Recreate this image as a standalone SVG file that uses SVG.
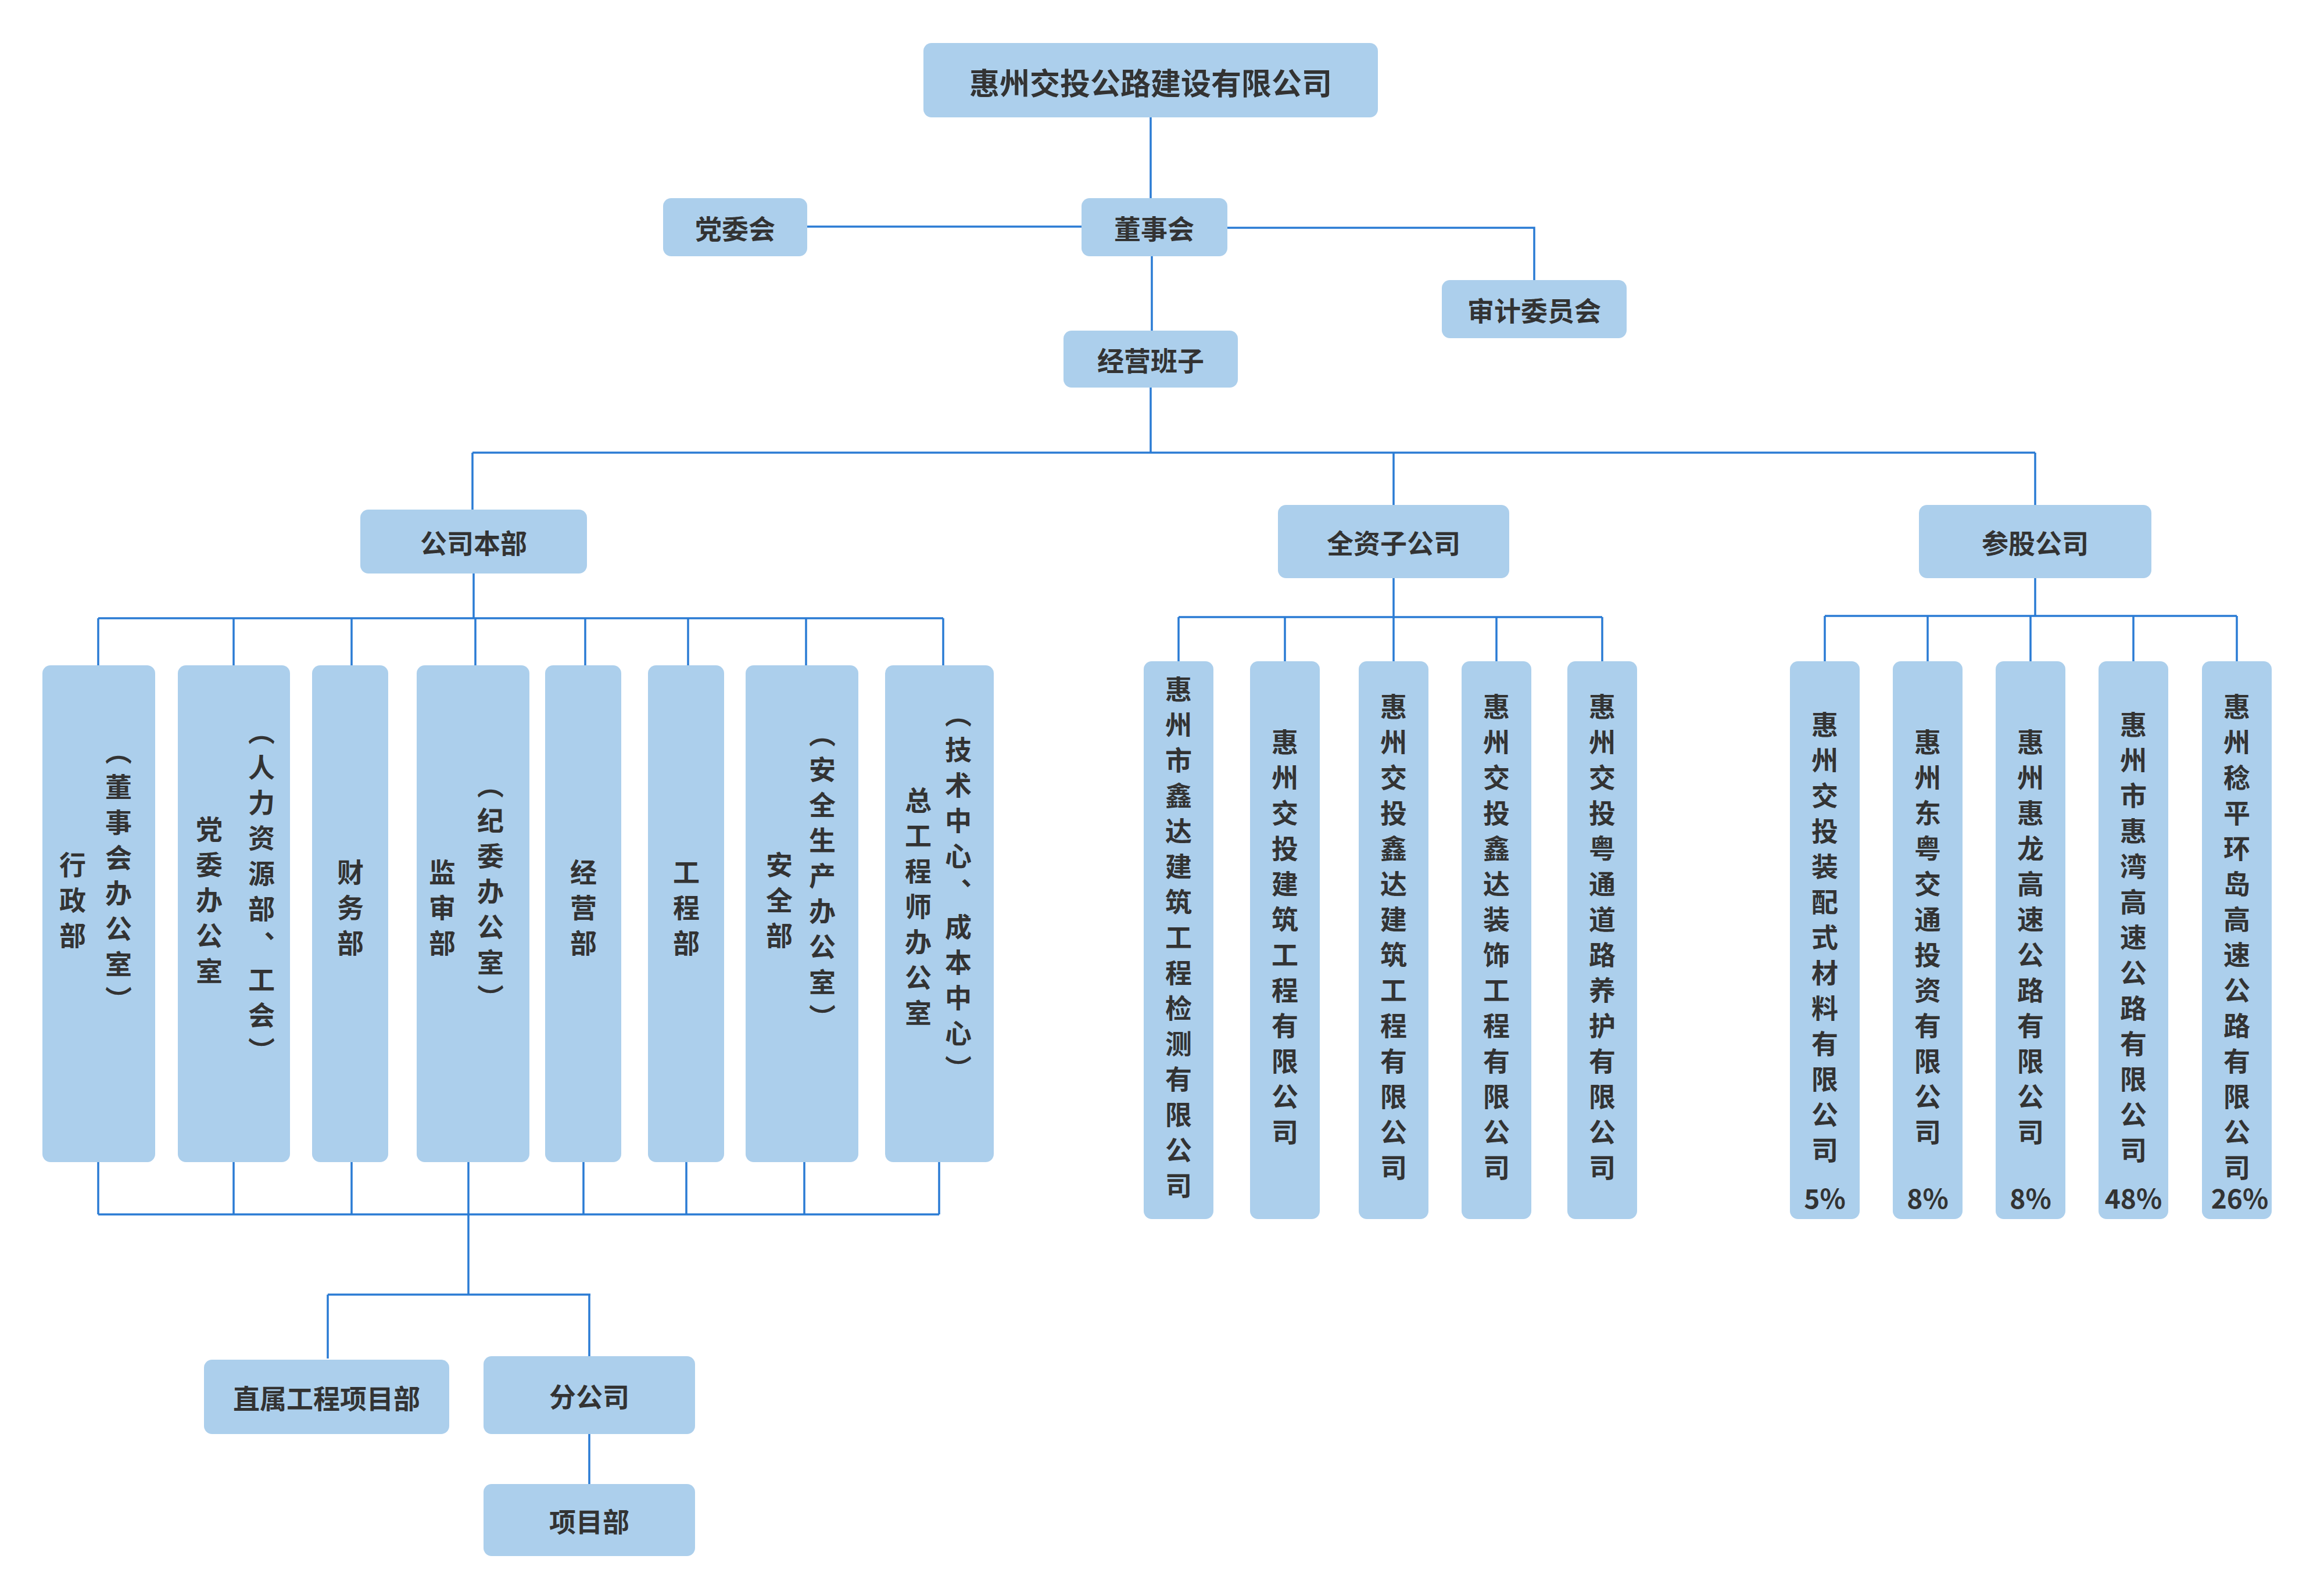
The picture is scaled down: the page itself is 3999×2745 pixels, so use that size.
<svg xmlns="http://www.w3.org/2000/svg" width="3999" height="2745" viewBox="0 0 3999 2745">
<style>
.b{fill:#accfec}
.t{font-family:"Noto Sans CJK SC","Noto Sans",sans-serif;font-weight:bold;fill:#333;text-anchor:middle}
.h{font-size:46px;dominant-baseline:central}
.v{font-size:46px;writing-mode:vertical-rl;letter-spacing:15px}
.p{font-size:46px}
.c{stroke:#2a7bd4;stroke-width:3.5;fill:none}
</style>
<rect width="3999" height="2745" fill="#fff"/>
<g id="connectors" class="c">
<path d="M1980 202V341M1389 390H1861M2112 392H2640V482M1982 441V569M1980 667V779M813 779H3502M813 779V877M2398 779V869M3502 779V869"/>
<path d="M815 987V1064M169 1064H1623M169 1064V1145M402 1064V1145M605 1064V1145M818 1064V1145M1007 1064V1145M1184 1064V1145M1387 1064V1145M1623 1064V1145"/>
<path d="M169 2000V2090M402 2000V2090M605 2000V2090M806 2000V2228M1004 2000V2090M1181 2000V2090M1384 2000V2090M1616 2000V2090M169 2090H1616"/>
<path d="M564 2228H1016M564 2228V2338M1014 2228V2334M1014 2468V2554"/>
<path d="M2398 995V1062M2028 1062H2757M2028 1062V1138M2211 1062V1138M2398 1062V1138M2575 1062V1138M2757 1062V1138"/>
<path d="M3502 995V1060M3140 1060H3849M3140 1060V1138M3317 1060V1138M3494 1060V1138M3671 1060V1138M3849 1060V1138"/>
</g>
<g id="n-top"><rect class="b" x="1589" y="74" width="782" height="128" rx="14"/><text class="t" x="1980" y="140" font-size="52" dominant-baseline="central">惠州交投公路建设有限公司</text></g>
<g id="n-dangweihui"><rect class="b" x="1141" y="341" width="248" height="100" rx="14"/><text class="t h" x="1265" y="391">党委会</text></g>
<g id="n-dongshihui"><rect class="b" x="1861" y="341" width="251" height="100" rx="14"/><text class="t h" x="1986" y="391">董事会</text></g>
<g id="n-shenji"><rect class="b" x="2481" y="482" width="318" height="100" rx="14"/><text class="t h" x="2640" y="532">审计委员会</text></g>
<g id="n-jingying"><rect class="b" x="1830" y="569" width="300" height="98" rx="14"/><text class="t h" x="1980" y="618">经营班子</text></g>
<g id="n-benbu"><rect class="b" x="620" y="877" width="390" height="110" rx="14"/><text class="t h" x="815" y="932">公司本部</text></g>
<g id="n-quanzi"><rect class="b" x="2199" y="869" width="398" height="126" rx="14"/><text class="t h" x="2398" y="932">全资子公司</text></g>
<g id="n-cangu"><rect class="b" x="3302" y="869" width="400" height="126" rx="14"/><text class="t h" x="3502" y="932">参股公司</text></g>

<g id="d1"><rect class="b" x="73" y="1145" width="194" height="855" rx="14"/><text class="t v" x="204" y="1514">（董事会办公室）</text><text class="t v" x="125" y="1556">行政部</text></g>
<g id="d2"><rect class="b" x="306" y="1145" width="193" height="855" rx="14"/><text class="t v" x="450" y="1541">（人力资源部、工会）</text><text class="t v" x="360" y="1556">党委办公室</text></g>
<g id="d3"><rect class="b" x="537" y="1145" width="131" height="855" rx="14"/><text class="t v" x="603" y="1569">财务部</text></g>
<g id="d4"><rect class="b" x="717" y="1145" width="194" height="855" rx="14"/><text class="t v" x="844" y="1541">（纪委办公室）</text><text class="t v" x="761" y="1569">监审部</text></g>
<g id="d5"><rect class="b" x="938" y="1145" width="131" height="855" rx="14"/><text class="t v" x="1004" y="1569">经营部</text></g>
<g id="d6"><rect class="b" x="1115" y="1145" width="131" height="855" rx="14"/><text class="t v" x="1181" y="1569">工程部</text></g>
<g id="d7"><rect class="b" x="1283" y="1145" width="194" height="855" rx="14"/><text class="t v" x="1415" y="1514">（安全生产办公室）</text><text class="t v" x="1341" y="1556">安全部</text></g>
<g id="d8"><rect class="b" x="1523" y="1145" width="187" height="855" rx="14"/><text class="t v" x="1649" y="1541">（技术中心、成本中心）</text><text class="t v" x="1580" y="1567">总工程师办公室</text></g>

<g id="n-zhishu"><rect class="b" x="351" y="2340" width="422" height="128" rx="14"/><text class="t h" x="562" y="2404">直属工程项目部</text></g>
<g id="n-fen"><rect class="b" x="832" y="2334" width="364" height="134" rx="14"/><text class="t h" x="1014" y="2401">分公司</text></g>
<g id="n-xiangmu"><rect class="b" x="832" y="2554" width="364" height="124" rx="14"/><text class="t h" x="1014" y="2616">项目部</text></g>

<g id="s1"><rect class="b" x="1968" y="1138" width="120" height="960" rx="14"/><text class="t v" x="2028" y="1620">惠州市鑫达建筑工程检测有限公司</text></g>
<g id="s2"><rect class="b" x="2151" y="1138" width="120" height="960" rx="14"/><text class="t v" x="2211" y="1620">惠州交投建筑工程有限公司</text></g>
<g id="s3"><rect class="b" x="2338" y="1138" width="120" height="960" rx="14"/><text class="t v" x="2398" y="1620">惠州交投鑫达建筑工程有限公司</text></g>
<g id="s4"><rect class="b" x="2515" y="1138" width="120" height="960" rx="14"/><text class="t v" x="2575" y="1620">惠州交投鑫达装饰工程有限公司</text></g>
<g id="s5"><rect class="b" x="2697" y="1138" width="120" height="960" rx="14"/><text class="t v" x="2757" y="1620">惠州交投粤通道路养护有限公司</text></g>

<g id="c1"><rect class="b" x="3080" y="1138" width="120" height="960" rx="14"/><text class="t v" x="3140" y="1620">惠州交投装配式材料有限公司</text><text class="t p" x="3140" y="2080">5%</text></g>
<g id="c2"><rect class="b" x="3257" y="1138" width="120" height="960" rx="14"/><text class="t v" x="3317" y="1620">惠州东粤交通投资有限公司</text><text class="t p" x="3317" y="2080">8%</text></g>
<g id="c3"><rect class="b" x="3434" y="1138" width="120" height="960" rx="14"/><text class="t v" x="3494" y="1620">惠州惠龙高速公路有限公司</text><text class="t p" x="3494" y="2080">8%</text></g>
<g id="c4"><rect class="b" x="3611" y="1138" width="120" height="960" rx="14"/><text class="t v" x="3671" y="1620">惠州市惠湾高速公路有限公司</text><text class="t p" x="3671" y="2080">48%</text></g>
<g id="c5"><rect class="b" x="3789" y="1138" width="120" height="960" rx="14"/><text class="t v" x="3849" y="1620">惠州稔平环岛高速公路有限公司</text><text class="t p" x="3854" y="2080">26%</text></g>
</svg>
